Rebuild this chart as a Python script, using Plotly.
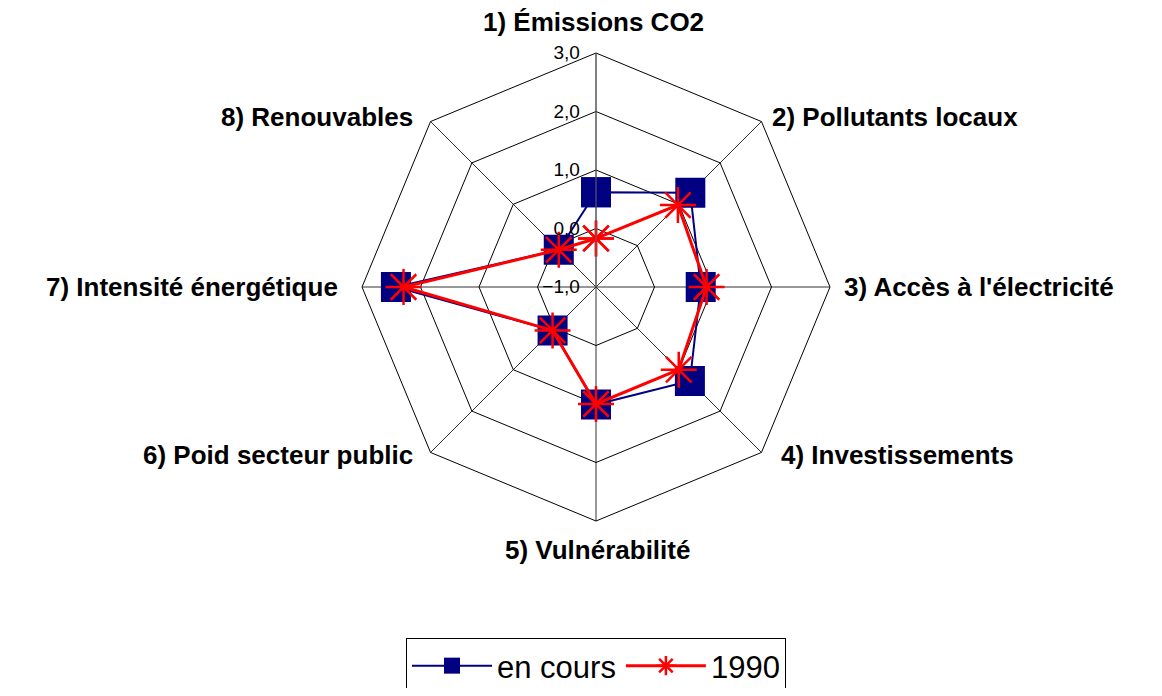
import plotly.graph_objects as go

categories = [
    "1) Émissions CO2",
    "2) Pollutants locaux",
    "3) Accès à l'électricité",
    "4) Investissements",
    "5) Vulnérabilité",
    "6) Poid secteur public",
    "7) Intensité énergétique",
    "8) Renouvables",
]
en_cours = [0.62, 1.28, 0.79, 1.27, 1.01, 0.05, 2.42, -0.10]
v1990 = [-0.17, 0.98, 0.89, 1.00, 1.00, 0.05, 2.29, -0.10]
radial_ticks = [-1, 0, 1, 2, 3]

# page body has an 8px margin: figure occupies screen (8..1154, 8..688)
W, H, OFF = 1146, 680, 8

def px(x):
    return (x - OFF) / W

def py(y):
    return 1 - (y - OFF) / H

def closed(v):
    return list(v) + [v[0]]

fig = go.Figure()
fig.add_trace(go.Scatterpolar(
    r=closed(en_cours), theta=closed(categories), name="en cours",
    mode="lines+markers", cliponaxis=True,
    line=dict(color="#000080", width=2),
    marker=dict(symbol="square", size=30, color="#000080",
                line=dict(color="#000080", width=0)),
))
fig.add_trace(go.Scatterpolar(
    r=closed(v1990), theta=closed(categories), name="1990",
    mode="lines+markers", cliponaxis=True,
    line=dict(color="#FF0000", width=3),
    marker=dict(symbol="asterisk-open", size=30, color="#FF0000",
                line=dict(color="#FF0000", width=2.5)),
))

# category label placement (screen px) : x, y, xanchor
label_pos = [
    (593, 22, "center"),
    (770, 117, "left"),
    (842, 287, "left"),
    (779, 455, "left"),
    (597, 550, "center"),
    (415, 455, "right"),
    (340, 287, "right"),
    (415, 117, "right"),
]
annotations = []
for cat, (x, y, xa) in zip(categories, label_pos):
    annotations.append(dict(
        text=cat, x=px(x), y=py(y), xref="paper", yref="paper",
        xanchor=xa, yanchor="middle", showarrow=False,
        font=dict(size=26, color="black", weight="bold",
                  family="Liberation Sans, Arial, sans-serif"),
    ))

fig.update_layout(
    width=W, height=H,
    paper_bgcolor="white", plot_bgcolor="white",
    separators=", ",
    margin=dict(l=0, r=0, t=0, b=0, autoexpand=False),
    font=dict(family="Liberation Sans, Arial, sans-serif", color="black"),
    annotations=annotations,
    polar=dict(
        domain=dict(x=[px(362), px(830)], y=[py(521), py(53)]),
        bgcolor="white",
        gridshape="linear",
        radialaxis=dict(
            range=[-1, 3], tickvals=radial_ticks, tickformat=".1f",
            angle=90, side="counterclockwise", tickangle=90,
            showline=True, linecolor="#666666", linewidth=1,
            gridcolor="black", gridwidth=1,
            ticks="outside", ticklen=9, tickcolor="rgba(0,0,0,0)",
            tickfont=dict(size=19, color="black"),
        ),
        angularaxis=dict(
            rotation=90, direction="clockwise",
            showline=True, linecolor="black", linewidth=1,
            gridcolor="#333333", gridwidth=1, ticks="",
            showticklabels=False,
        ),
    ),
    legend=dict(
        orientation="h", x=px(596), xanchor="center", y=py(638), yanchor="top",
        bordercolor="black", borderwidth=1, bgcolor="white",
        font=dict(size=31, color="black"),
        itemwidth=80,
    ),
)

fig.write_html("out.html")
